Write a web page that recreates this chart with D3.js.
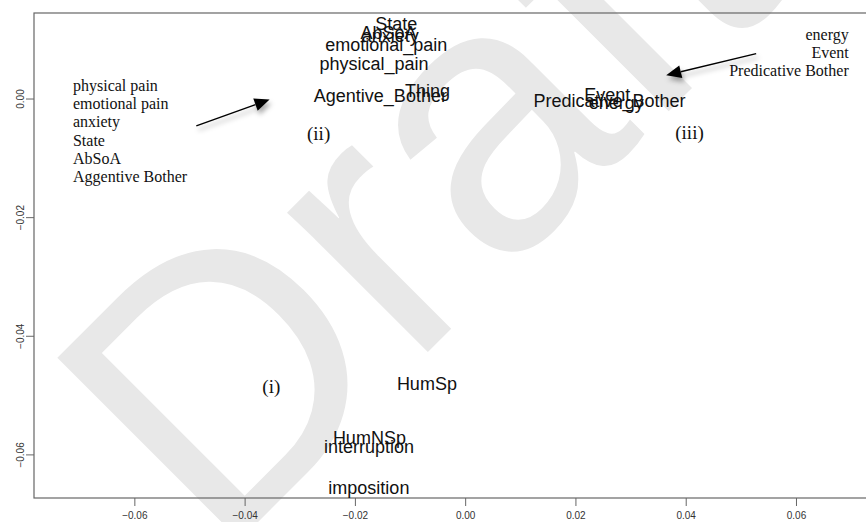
<!DOCTYPE html>
<html>
<head>
<meta charset="utf-8">
<script src="https://cdn.jsdelivr.net/npm/d3@7"></script>
<style>
	body { margin: 0; background: #fff; }
	svg { display: block; }
	.labels text { font-family: 'Liberation Sans', Arial, sans-serif; font-size: 18px; fill: #111; }
	.notes text { font-family: 'Liberation Serif', 'Times New Roman', serif; fill: #111; }
	.tick text { font-family: 'Liberation Sans', Arial, sans-serif; font-size: 10px; fill: #333; }
</style>
</head>
<body>
<div id="chart"></div>
<script>
'use strict';

var words = ['State','AbSoA','anxiety','emotional_pain','physical_pain','Agentive_Bother','Thing',
	'Event','Predicative_Bother','energy','HumSp','HumNSp','interruption','imposition'];
var dim1 = [-0.01249,-0.01389,-0.01358,-0.01431,-0.01652,-0.01538,-0.00682,
	0.02578,0.02618,0.0274,-0.00694,-0.01737,-0.01743,-0.01746];
var dim2 = [0.01272,0.01109,0.01067,0.00906,0.00595,0.00047,0.00143,
	0.00069,-0.00037,-0.00062,-0.04797,-0.0572,-0.05867,-0.06563];

var xTicks = [-0.06,-0.04,-0.02,0.00,0.02,0.04,0.06];
var yTicks = [0.00,-0.02,-0.04,-0.06];

var groupNames = ['(i)','(ii)','(iii)'];
var groupX = [-0.03516,-0.02658,0.04069];
var groupY = [-0.04859,-0.0059,-0.00573];

var leftNote = ['physical pain','emotional pain','anxiety','State','AbSoA','Aggentive Bother'];
var rightNote = ['energy','Event','Predicative Bother'];
var noteX = [-0.07113, 0.06957];
var noteY = [0.00128, 0.00982];

// arrows: [x1, y1, x2, y2]
var arrows = [[-0.04876,-0.00462,-0.03547,-0.00017],[0.05278,0.00758,0.03646,0.00392]];

var W = 866, H = 522;
var margin = {left: 34, top: 13, bottom: 24};

var x = d3.scaleLinear().domain([-0.0782, 0.0727]).range([margin.left, W]);
var y = d3.scaleLinear().domain([0.01442, -0.06735]).range([margin.top, H - margin.bottom]);

var svg = d3.select('#chart').append('svg')
	.attr('width', W)
	.attr('height', H);

var defs = svg.append('defs');
var shadow = defs.append('filter').attr('id', 'shadow')
	.attr('x', '-50%').attr('y', '-50%').attr('width', '200%').attr('height', '200%');
shadow.append('feDropShadow')
	.attr('dx', 2).attr('dy', 4).attr('stdDeviation', 2.5)
	.attr('flood-color', '#000').attr('flood-opacity', 0.35);

//Watermark
svg.append('text')
	.attr('transform', 'translate(218,562) rotate(-45)')
	.style('font-family', "'Liberation Sans', Arial, sans-serif")
	.style('font-size', '375px')
	.style('fill', '#e8e8e8')
	.text('Draft');

//Frame
svg.append('rect')
	.attr('x', x.range()[0])
	.attr('y', y.range()[0])
	.attr('width', W + 10 - x.range()[0])
	.attr('height', y.range()[1] - y.range()[0])
	.attr('fill', 'none')
	.attr('stroke', '#666')
	.attr('stroke-width', 1.2);

//Axes
var xAxis = svg.append('g')
	.attr('transform', 'translate(0,' + y.range()[1] + ')')
	.call(d3.axisBottom(x).tickValues(xTicks).tickFormat(d3.format('.2f')).tickSizeOuter(0).tickSize(8).tickPadding(6));
xAxis.select('.domain').remove();
xAxis.selectAll('.tick line').attr('stroke', '#666');

var yAxis = svg.append('g')
	.attr('transform', 'translate(' + x.range()[0] + ',0)')
	.call(d3.axisLeft(y).tickValues(yTicks).tickFormat(d3.format('.2f')).tickSizeOuter(0).tickSize(8));
yAxis.select('.domain').remove();
yAxis.selectAll('.tick line').attr('stroke', '#666');
yAxis.selectAll('.tick text')
	.attr('x', null).attr('dy', null)
	.attr('text-anchor', 'middle')
	.attr('transform', 'translate(-14,0) rotate(-90)')
	.attr('dy', '0.35em');

//Draw words
var points = words.map(function(w, i){ return {name: w, a: dim1[i], b: dim2[i]}; });
svg.append('g').attr('class', 'labels')
	.selectAll('text')
	.data(points)
	.enter()
	.append('text')
	.attr('x', function(d){ return x(d.a); })
	.attr('y', function(d){ return y(d.b); })
	.attr('dy', '0.36em')
	.attr('text-anchor', 'middle')
	.text(function(d){ return d.name; });

//Group notes
var notes = svg.append('g').attr('class', 'notes');
notes.selectAll('.grp')
	.data(groupNames)
	.enter()
	.append('text')
	.classed('grp', 1)
	.attr('x', function(d, i){ return x(groupX[i]); })
	.attr('y', function(d, i){ return y(groupY[i]); })
	.attr('dy', '0.33em')
	.attr('text-anchor', 'middle')
	.style('font-size', '19px')
	.text(function(d){ return d; });

notes.selectAll('.lnote')
	.data(leftNote)
	.enter()
	.append('text')
	.classed('lnote', 1)
	.attr('x', x(noteX[0]))
	.attr('y', function(d, i){ return y(noteY[0]) + i * 18.2; })
	.style('font-size', '16px')
	.text(function(d){ return d; });

notes.selectAll('.rnote')
	.data(rightNote)
	.enter()
	.append('text')
	.classed('rnote', 1)
	.attr('x', x(noteX[1]))
	.attr('y', function(d, i){ return y(noteY[1]) + i * 18; })
	.attr('text-anchor', 'end')
	.style('font-size', '16px')
	.text(function(d){ return d; });

//Arrows
var arr = svg.append('g').attr('filter', 'url(#shadow)');
arrows.forEach(function(a){
	var x1 = x(a[0]), y1 = y(a[1]), x2 = x(a[2]), y2 = y(a[3]);
	var ang = Math.atan2(y2 - y1, x2 - x1), len = 15, half = 6.5;
	var bx = x2 - len * Math.cos(ang), by = y2 - len * Math.sin(ang);
	arr.append('line')
		.attr('x1', x1).attr('y1', y1)
		.attr('x2', bx).attr('y2', by)
		.attr('stroke', '#000')
		.attr('stroke-width', 1.4);
	arr.append('path')
		.attr('d', 'M' + x2 + ',' + y2 +
			'L' + (bx + half * Math.sin(ang)) + ',' + (by - half * Math.cos(ang)) +
			'L' + (bx - half * Math.sin(ang)) + ',' + (by + half * Math.cos(ang)) + 'Z')
		.attr('fill', '#000');
});
</script>
</body>
</html>
